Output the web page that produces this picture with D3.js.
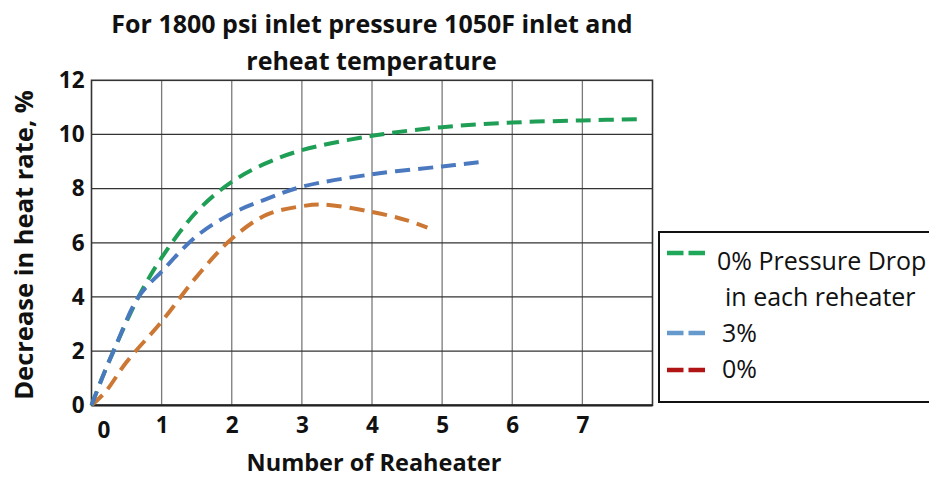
<!DOCTYPE html>
<html>
<head>
<meta charset="utf-8">
<script src="https://cdn.jsdelivr.net/npm/d3@7"></script>
<style>
  body { margin: 0; background: #fff; }
  text { font-family: "Open Sans", Lato, sans-serif; }
</style>
</head>
<body>
<div id="chart"></div>
<script>
// data
let xTicks = [0, 1, 2, 3, 4, 5, 6, 7]
let yTicks = [0, 2, 4, 6, 8, 10, 12]

let greenX = [0, 0.15, 0.33, 0.67, 1, 1.5, 2, 2.5, 3, 4, 5, 6, 7, 7.86]
let greenY = [0, 1.0, 2.1, 4.0, 5.45, 7.15, 8.25, 8.95, 9.42, 9.95, 10.27, 10.44, 10.52, 10.57]

let blueX = [0, 0.15, 0.33, 0.67, 1, 1.5, 2, 2.5, 3, 4, 5, 5.52]
let blueY = [0, 1.0, 2.1, 4.0, 4.94, 6.25, 7.08, 7.62, 8.07, 8.53, 8.82, 8.97]

let orangeX = [0, 0.2, 0.5, 1, 1.5, 2, 2.5, 3, 3.3, 4, 4.5, 4.79]
let orangeY = [0, 0.5, 1.6, 3.09, 4.75, 6.15, 7.04, 7.35, 7.41, 7.14, 6.83, 6.56]

let legendLabels = ['0% Pressure Drop', 'in each reheater', '3%', '0%']

let width = 929
let height = 477
let margin = { top: 80.3, left: 91.5, right: 929 - 652.5, bottom: 477 - 405.3 }

let svg = d3.select('#chart')
  .append('svg')
  .attr('width', width)
  .attr('height', height)

let xPositionScale = d3.scaleLinear().domain([0, 8]).range([margin.left, width - margin.right])
let yPositionScale = d3.scaleLinear().domain([0, 12]).range([height - margin.bottom, margin.top])

// grid
svg.append('g')
  .selectAll('line')
  .data(d3.range(1, 8))
  .enter()
  .append('line')
  .attr('x1', d => xPositionScale(d))
  .attr('x2', d => xPositionScale(d))
  .attr('y1', yPositionScale(0))
  .attr('y2', yPositionScale(12))
  .attr('stroke', '#7a7a7a')
  .attr('stroke-width', 1.3)

svg.append('g')
  .selectAll('line')
  .data(yTicks.slice(1, 6))
  .enter()
  .append('line')
  .attr('x1', xPositionScale(0))
  .attr('x2', xPositionScale(8))
  .attr('y1', d => yPositionScale(d))
  .attr('y2', d => yPositionScale(d))
  .attr('stroke', '#333')
  .attr('stroke-width', 1.3)

// frame
svg.append('rect')
  .attr('x', xPositionScale(0))
  .attr('y', yPositionScale(12))
  .attr('width', xPositionScale(8) - xPositionScale(0))
  .attr('height', yPositionScale(0) - yPositionScale(12))
  .attr('fill', 'none')
  .attr('stroke', '#333')
  .attr('stroke-width', 1.6)

svg.append('line')
  .attr('x1', xPositionScale(0))
  .attr('x2', xPositionScale(8))
  .attr('y1', yPositionScale(0))
  .attr('y2', yPositionScale(0))
  .attr('stroke', '#222')
  .attr('stroke-width', 2.2)

// axes
let yAxis = d3.axisLeft(yPositionScale).tickValues(yTicks).tickSize(0).tickPadding(7)
let yg = svg.append('g')
  .attr('class', 'axis y-axis')
  .attr('transform', `translate(${xPositionScale(0)},0)`)
  .call(yAxis)
yg.select('.domain').remove()
yg.selectAll('text')
  .attr('font-size', 22.5)
  .attr('font-weight', 'bold')
  .attr('fill', '#111')
  .style('font-family', '"Open Sans", sans-serif')

let xAxis = d3.axisBottom(xPositionScale).tickValues(xTicks).tickSize(0).tickPadding(12)
let xg = svg.append('g')
  .attr('class', 'axis x-axis')
  .attr('transform', `translate(0,${yPositionScale(0)})`)
  .call(xAxis)
xg.select('.domain').remove()
xg.selectAll('text')
  .attr('font-size', 22.5)
  .attr('font-weight', 'bold')
  .attr('fill', '#111')
  .style('font-family', '"Open Sans", sans-serif')
xg.selectAll('.tick')
  .filter(d => d === 0)
  .select('text')
  .attr('dx', 12)
  .attr('dy', '0.9em')

// lines (blue drawn last, it sits on top near the origin)
let line = d3.line()
  .x(d => xPositionScale(d[0]))
  .y(d => yPositionScale(d[1]))
  .curve(d3.curveCatmullRom.alpha(0.5))

let series = [
  { xs: orangeX, ys: orangeY, color: '#cc7834' },
  { xs: greenX, ys: greenY, color: '#1f9e55' },
  { xs: blueX, ys: blueY, color: '#4a79bf' }
]

svg.selectAll('.series')
  .data(series)
  .enter()
  .append('path')
  .attr('class', 'series')
  .attr('d', d => line(d.xs.map((x, i) => [x, d.ys[i]])))
  .attr('fill', 'none')
  .attr('stroke', d => d.color)
  .attr('stroke-width', 4)
  .attr('stroke-dasharray', '15,8')

// titles
svg.append('text')
  .attr('x', 372)
  .attr('y', 33)
  .attr('text-anchor', 'middle')
  .attr('font-size', 25)
  .attr('font-weight', 'bold')
  .attr('fill', '#111')
  .text('For 1800 psi inlet pressure 1050F inlet and')

svg.append('text')
  .attr('x', 371.5)
  .attr('y', 70)
  .attr('text-anchor', 'middle')
  .attr('font-size', 25)
  .attr('font-weight', 'bold')
  .attr('fill', '#111')
  .text('reheat temperature')

svg.append('text')
  .attr('x', 374)
  .attr('y', 471)
  .attr('text-anchor', 'middle')
  .attr('font-size', 23.5)
  .attr('font-weight', 'bold')
  .attr('fill', '#111')
  .text('Number of Reaheater')

svg.append('text')
  .attr('transform', 'translate(33,245) rotate(-90)')
  .attr('text-anchor', 'middle')
  .attr('font-size', 25.5)
  .attr('font-weight', 'bold')
  .attr('fill', '#111')
  .text('Decrease in heat rate, %')

// legend
let legend = svg.append('g').attr('transform', 'translate(659,232)')
legend.append('rect')
  .attr('width', 300)
  .attr('height', 170)
  .attr('fill', '#fff')
  .attr('stroke', '#111')
  .attr('stroke-width', 2)

let legendItems = [
  { label: legendLabels[0], color: '#1fa85a', y: 21, base: 38, x: 58 },
  { label: legendLabels[1], color: null, y: 60, base: 74, x: 66 },
  { label: legendLabels[2], color: '#6699cc', y: 101, base: 109.5, x: 63 },
  { label: legendLabels[3], color: '#b01414', y: 138, base: 145.5, x: 63 }
]

legendItems.forEach(d => {
  if (d.color) {
    legend.append('line')
      .attr('x1', 8)
      .attr('x2', 46)
      .attr('y1', d.y)
      .attr('y2', d.y)
      .attr('stroke', d.color)
      .attr('stroke-width', 4.5)
      .attr('stroke-dasharray', '16.5,5')
  }
  legend.append('text')
    .attr('x', d.x)
    .attr('y', d.base)
    .attr('font-size', 25)
    .attr('fill', '#111')
    .text(d.label)
})
</script>
</body>
</html>
